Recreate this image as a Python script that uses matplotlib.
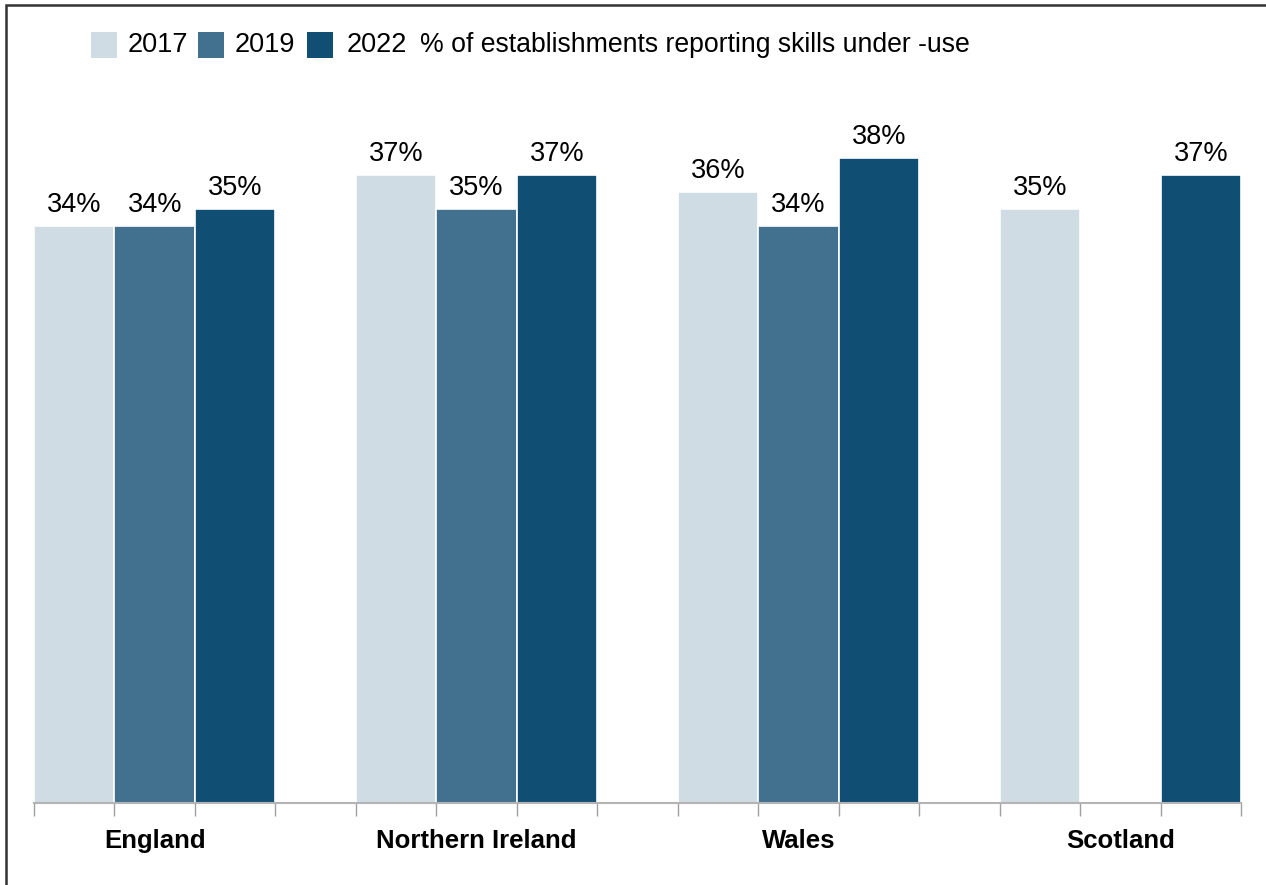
import matplotlib.pyplot as plt
import matplotlib.patches as mpatches
import numpy as np

plt.rcParams["font.family"] = ["Liberation Sans", "DejaVu Sans"]

regions = ["England", "Northern Ireland", "Wales", "Scotland"]
years = ["2017", "2019", "2022"]
values_2017 = [34, 37, 36, 35]
values_2019 = [34, 35, 34, None]  # no 2019 figure for Scotland
values_2022 = [35, 37, 38, 37]
colors = ["#cfdce4", "#41718f", "#114e74"]
title = "% of establishments reporting skills under -use"

fig = plt.figure(figsize=(12.66, 8.85), dpi=100)
W, H = 1266, 885
ax = fig.add_axes([34 / W, 82 / H, 1207 / W, 703 / H])

series = [values_2017, values_2019, values_2022]
for j, vals in enumerate(series):
    xs = [i * 4 + j for i, v in enumerate(vals) if v is not None]
    ys = [v for v in vals if v is not None]
    bars = ax.bar(xs, ys, width=1.0, color=colors[j], edgecolor="white",
                  linewidth=1.2, label=years[j])
    for b, v in zip(bars, ys):
        ax.annotate(f"{v}%", (b.get_x() + b.get_width() / 2, v),
                    xytext=(0, 6), textcoords="offset points",
                    ha="center", va="bottom", fontsize=19.5)

ax.set_xlim(-0.5, 14.5)
ax.set_ylim(0, 703 / 16.97)
ax.set_yticks([])
for s in ["top", "right", "left"]:
    ax.spines[s].set_visible(False)
ax.spines["bottom"].set_color("#b4b4b4")
ax.spines["bottom"].set_linewidth(1.5)

# tick marks at every slot boundary, labels at the group centres
ax.set_xticks(np.arange(-0.5, 15, 1))
ax.set_xticklabels([])
ax.tick_params(axis="x", length=9, width=1, color="#a0a0a0")
ax.set_xticks([i * 4 + 1 for i in range(4)], minor=True)
ax.set_xticklabels(regions, minor=True, fontsize=18.5, fontweight="bold")
ax.tick_params(axis="x", which="minor", length=0, pad=19)

# legend along the top, laid out by hand
box_x = [91, 198, 307]
text_x = [128, 235, 347]
for bx, tx, c, y in zip(box_x, text_x, colors, years):
    fig.add_artist(mpatches.Rectangle((bx / W, 1 - 58 / H), 26 / W, 26 / H,
                                      transform=fig.transFigure,
                                      facecolor=c, edgecolor="none"))
    fig.text(tx / W, 1 - 45 / H, y, fontsize=19.5, va="center", ha="left")
fig.text(420 / W, 1 - 45 / H, title, fontsize=19.2, va="center", ha="left")

# frame around the figure (only top and left visible in the crop)
fig.add_artist(mpatches.Rectangle((6 / W, -0.1), 1.2, 1 - 5 / H + 0.1,
                                  transform=fig.transFigure, fill=False,
                                  edgecolor="#333333", linewidth=1.8))

fig.savefig("out.png", dpi=100)
